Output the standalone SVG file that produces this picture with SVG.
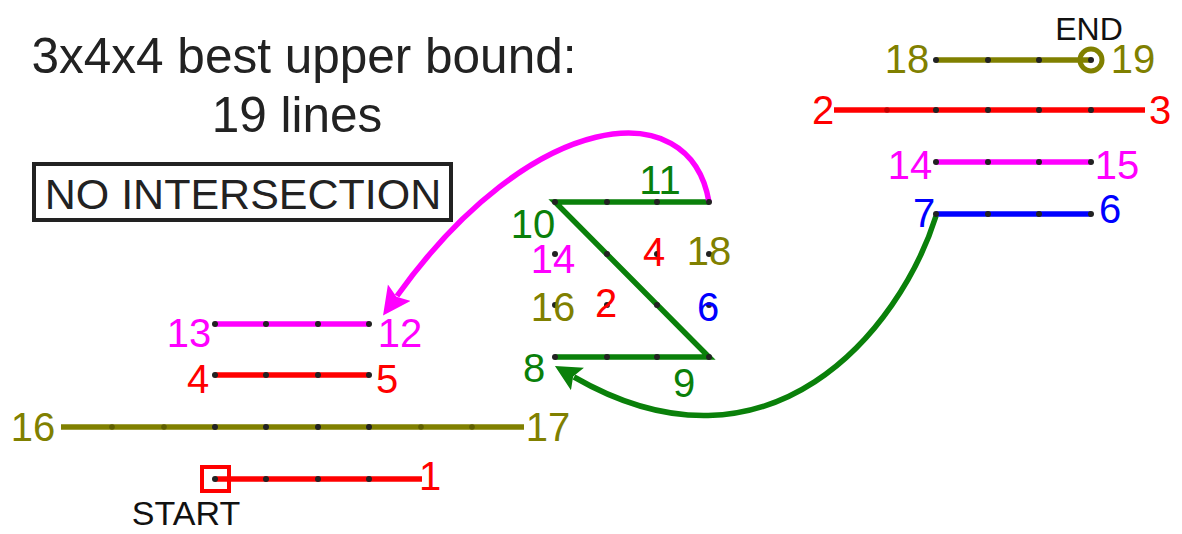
<svg xmlns="http://www.w3.org/2000/svg" width="1182" height="534" viewBox="0 0 1182 534">
  <style>
    text { font-family: "Liberation Sans", Arial, sans-serif; }
    .lbl { font-size: 40px; text-anchor: middle; }
    .seg { fill: none; stroke-width: 5.5; stroke-linecap: butt; }
    .dot { fill: #222; }
    .red { fill: #ff0000; } .mag { fill: #ff00ff; } .olv { fill: #808000; } .grn { fill: #0a800a; } .blu { fill: #0000ff; } .blk { fill: #111; }
  </style>
  <defs>
    <marker id="ahG" markerUnits="userSpaceOnUse" markerWidth="32" markerHeight="32" refX="4" refY="13" orient="auto">
      <path d="M0,0 L26,13 L0,26 L5,13 z" fill="#0a800a"/>
    </marker>
    <marker id="ahM" markerUnits="userSpaceOnUse" markerWidth="34" markerHeight="34" refX="4" refY="14" orient="auto">
      <path d="M0,0 L28,14 L0,28 L5,14 z" fill="#ff00ff"/>
    </marker>
  </defs>
  <rect width="1182" height="534" fill="#fff"/>

  <g id="title">
    <text x="304" y="73" font-size="49.5" text-anchor="middle" fill="#222">3x4x4 best upper bound:</text>
    <text x="297" y="132" font-size="49.5" text-anchor="middle" fill="#222">19 lines</text>
  </g>
  <g id="note">
    <rect x="34" y="164" width="417" height="56" fill="none" stroke="#222" stroke-width="4"/>
    <text x="243" y="209" font-size="43" text-anchor="middle" fill="#222">NO INTERSECTION</text>
  </g>

  <g id="lines">
    <line class="seg" stroke="#ff0000" x1="215" y1="479" x2="422" y2="479"/>
    <line class="seg" stroke="#ff0000" x1="215" y1="375" x2="369" y2="375"/>
    <line class="seg" stroke="#ff00ff" x1="215" y1="324" x2="369" y2="324"/>
    <line class="seg" stroke="#808000" x1="61" y1="427" x2="524" y2="427"/>
    <polyline class="seg" stroke="#0a800a" stroke-linejoin="miter" points="555,357 709,357 555,202 709,202"/>
    <line class="seg" stroke="#808000" x1="936" y1="60" x2="1091" y2="60"/>
    <line class="seg" stroke="#ff0000" x1="834" y1="110" x2="1145" y2="110"/>
    <line class="seg" stroke="#ff00ff" x1="936" y1="162" x2="1091" y2="162"/>
    <line class="seg" stroke="#0000ff" x1="936" y1="214" x2="1091" y2="214"/>
  </g>

  <g id="connectors">
    <path class="seg" stroke="#0a800a" d="M936,216 C900,330 770,490 574,377" marker-end="url(#ahG)"/>
    <path class="seg" stroke="#ff00ff" d="M709,202 C690,90 530,110 397,296" marker-end="url(#ahM)"/>
  </g>

  <g id="grid-left">
    <circle class="dot" cx="215" cy="324" r="3"/><circle class="dot" cx="266" cy="324" r="3"/><circle class="dot" cx="318" cy="324" r="3"/><circle class="dot" cx="369" cy="324" r="3"/>
    <circle class="dot" cx="215" cy="375" r="3"/><circle class="dot" cx="266" cy="375" r="3"/><circle class="dot" cx="318" cy="375" r="3"/><circle class="dot" cx="369" cy="375" r="3"/>
    <circle class="dot" cx="215" cy="427" r="3"/><circle class="dot" cx="266" cy="427" r="3"/><circle class="dot" cx="318" cy="427" r="3"/><circle class="dot" cx="369" cy="427" r="3"/>
    <circle class="dot" cx="215" cy="479" r="3"/><circle class="dot" cx="266" cy="479" r="3"/><circle class="dot" cx="318" cy="479" r="3"/><circle class="dot" cx="369" cy="479" r="3"/>
    <circle cx="112" cy="427" r="2.8" fill="#5e5e00"/><circle cx="164" cy="427" r="2.8" fill="#5e5e00"/><circle cx="421" cy="427" r="2.8" fill="#5e5e00"/><circle cx="472" cy="427" r="2.8" fill="#5e5e00"/>
  </g>
  <g id="grid-middle">
    <circle class="dot" cx="555" cy="202" r="3"/><circle class="dot" cx="607" cy="202" r="3"/><circle class="dot" cx="657" cy="202" r="3"/><circle class="dot" cx="709" cy="202" r="3"/>
    <circle class="dot" cx="555" cy="254" r="3"/><circle class="dot" cx="607" cy="254" r="3"/><circle class="dot" cx="657" cy="254" r="3"/><circle class="dot" cx="709" cy="254" r="3"/>
    <circle class="dot" cx="555" cy="305" r="3"/><circle class="dot" cx="607" cy="305" r="3"/><circle class="dot" cx="657" cy="305" r="3"/><circle class="dot" cx="709" cy="305" r="3"/>
    <circle class="dot" cx="555" cy="357" r="3"/><circle class="dot" cx="607" cy="357" r="3"/><circle class="dot" cx="657" cy="357" r="3"/><circle class="dot" cx="709" cy="357" r="3"/>
  </g>
  <g id="grid-right">
    <circle class="dot" cx="936" cy="60" r="3"/><circle class="dot" cx="988" cy="60" r="3"/><circle class="dot" cx="1039" cy="60" r="3"/><circle class="dot" cx="1091" cy="60" r="3"/>
    <circle class="dot" cx="936" cy="110" r="3"/><circle class="dot" cx="988" cy="110" r="3"/><circle class="dot" cx="1039" cy="110" r="3"/><circle class="dot" cx="1091" cy="110" r="3"/>
    <circle class="dot" cx="936" cy="162" r="3"/><circle class="dot" cx="988" cy="162" r="3"/><circle class="dot" cx="1039" cy="162" r="3"/><circle class="dot" cx="1091" cy="162" r="3"/>
    <circle class="dot" cx="936" cy="214" r="3"/><circle class="dot" cx="988" cy="214" r="3"/><circle class="dot" cx="1039" cy="214" r="3"/><circle class="dot" cx="1091" cy="214" r="3"/>
    <circle cx="887" cy="110" r="2.8" fill="#c00000"/>
  </g>

  <g id="start">
    <rect x="202" y="467" width="27" height="24" fill="none" stroke="#ff0000" stroke-width="4"/>
    <text x="186" y="525" font-size="34" text-anchor="middle" class="blk">START</text>
  </g>
  <g id="end">
    <circle cx="1091" cy="60" r="11" fill="none" stroke="#808000" stroke-width="5"/>
    <text x="1089" y="40" font-size="32" text-anchor="middle" class="blk">END</text>
  </g>

  <g id="labels-left">
    <text class="lbl mag" x="189" y="347">13</text>
    <text class="lbl mag" x="400" y="347">12</text>
    <text class="lbl red" x="198" y="393">4</text>
    <text class="lbl red" x="387" y="393">5</text>
    <text class="lbl olv" x="33" y="441">16</text>
    <text class="lbl olv" x="548" y="441">17</text>
    <text class="lbl red" x="430" y="490">1</text>
  </g>
  <g id="labels-middle">
    <text class="lbl grn" x="660" y="194">11</text>
    <text class="lbl grn" x="533" y="238">10</text>
    <text class="lbl mag" x="553" y="273">14</text>
    <text class="lbl red" x="654" y="266">4</text>
    <text class="lbl olv" x="709" y="265">18</text>
    <text class="lbl olv" x="553" y="321">16</text>
    <text class="lbl red" x="606" y="317">2</text>
    <text class="lbl blu" x="708" y="321">6</text>
    <text class="lbl grn" x="534" y="382">8</text>
    <text class="lbl grn" x="684" y="397">9</text>
  </g>
  <g id="labels-right">
    <text class="lbl olv" x="907" y="73">18</text>
    <text class="lbl olv" x="1133" y="73">19</text>
    <text class="lbl red" x="823" y="124">2</text>
    <text class="lbl red" x="1160" y="124">3</text>
    <text class="lbl mag" x="910" y="179">14</text>
    <text class="lbl mag" x="1117" y="179">15</text>
    <text class="lbl blu" x="924" y="227">7</text>
    <text class="lbl blu" x="1110" y="223">6</text>
  </g>
</svg>
